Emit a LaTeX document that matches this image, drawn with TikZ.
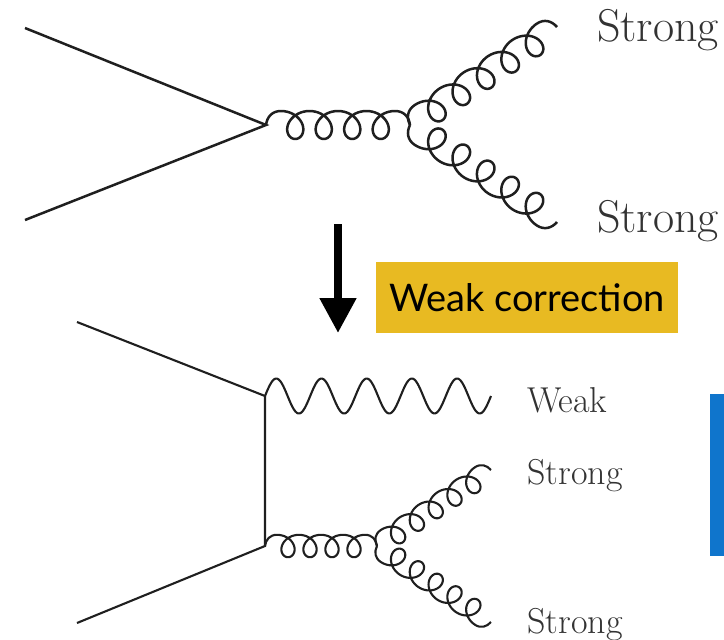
\documentclass[tikz,border=0pt]{standalone}
\usepackage{fontspec}
\usepackage{xcolor}
\newfontfamily\boxfont{Lato}
\usetikzlibrary{arrows.meta}
\usetikzlibrary{calc}
\definecolor{boxyellow}{HTML}{E8BA22}
\definecolor{barblue}{HTML}{0F75CC}
\definecolor{labelgray}{HTML}{333333}
\tikzset{
    quark/.style={line width=2.5pt,draw=black!88},
    thinquark/.style={line width=2.1pt,draw=black!88},
    biglabel/.style={anchor=base west,inner sep=0pt,text=labelgray,font=\fontsize{46}{46}\selectfont},
    smalllabel/.style={anchor=base west,inner sep=0pt,text=labelgray,font=\fontsize{36}{36}\selectfont},
}
\newcommand{\gluon}[6]{
    \draw[#1,line join=round] let \p1=($(#3)-(#2)$), \n1={veclen(\x1,\y1)}, \n2={atan2(\y1,\x1)} in
      [shift={(#2)},rotate=\n2] (0,0)
      .. controls ({#5},{-8*#5*#6}) and ({6*#5},{-14*#5*#6}) .. ({15*#5},{-14*#5*#6})
      -- plot[variable=\t,domain=0:360*#4,samples=40*#4+1]
        ({15*#5+(\n1-30*#5)/#4*(\t/360)+14.5*#5*sin(\t)},{#6*#5*(-14*cos(\t))})
      .. controls ({\n1-6*#5},{-14*#5*#6}) and ({\n1-#5},{-8*#5*#6}) .. ({\n1},0);
}
\newcommand{\wboson}[5]{
    \draw[#1,line join=round] let \p1=($(#3)-(#2)$), \n1={veclen(\x1,\y1)}, \n2={atan2(\y1,\x1)} in
      [shift={(#2)},rotate=\n2] plot[variable=\t,domain=0:360*#4,samples=30*#4+1]
        ({\n1*(\t/360)/#4},{-#5*sin(\t)});
}
\begin{document}
\begin{tikzpicture}[x=1pt,y=-1pt]
    \useasboundingbox (0,0) rectangle (724,640);
    \coordinate (in1) at (25,28);
    \coordinate (in2) at (25,220);
    \coordinate (v1) at (266,125);
    \coordinate (v2) at (410,125);
    \coordinate (out1) at (557,27);
    \coordinate (out2) at (557,222);
    \draw[quark] (in1) -- (v1) -- (in2);
    \gluon{quark}{v1}{v2}{4}{1}{1}
    \gluon{quark}{v2}{out1}{5}{1}{1}
    \gluon{quark}{v2}{out2}{5}{1}{-1}
    \node[biglabel] (s1) at (597,41) {Strong};
    \node[biglabel] (s2) at (597,232) {Strong};
    \coordinate (arrowtop) at (338,224);
    \coordinate (arrowend) at (338,333);
    \draw[-{Triangle[length=35pt,width=35pt]},line width=8pt] (arrowtop) -- (arrowend);
    \node[fill=boxyellow,minimum width=302pt,minimum height=71pt,inner sep=0pt,font=\boxfont\fontsize{38}{38}\selectfont] (corr) at (527,297.5) {Weak correction};
    \coordinate (in3) at (77,322);
    \coordinate (in4) at (77,623);
    \coordinate (v3) at (265,396);
    \coordinate (v4) at (265,546);
    \coordinate (v5) at (377,546);
    \coordinate (wend) at (491,396);
    \coordinate (out3) at (491,470);
    \coordinate (out4) at (491,622);
    \draw[thinquark] (in3) -- (v3) -- (v4) -- (in4);
    \wboson{thinquark}{v3}{wend}{5}{17.5}
    \gluon{thinquark}{v4}{v5}{4}{0.8}{1}
    \gluon{thinquark}{v5}{out3}{5}{0.8}{1}
    \gluon{thinquark}{v5}{out4}{5}{0.8}{-1}
    \node[smalllabel] (w1) at (527,412) {Weak};
    \node[smalllabel] (s3) at (527,484) {Strong};
    \node[smalllabel] (s4) at (527,633) {Strong};
    \node[fill=barblue,minimum width=14pt,minimum height=162pt,inner sep=0pt] (bar) at (717,475) {};
\end{tikzpicture}
\end{document}
